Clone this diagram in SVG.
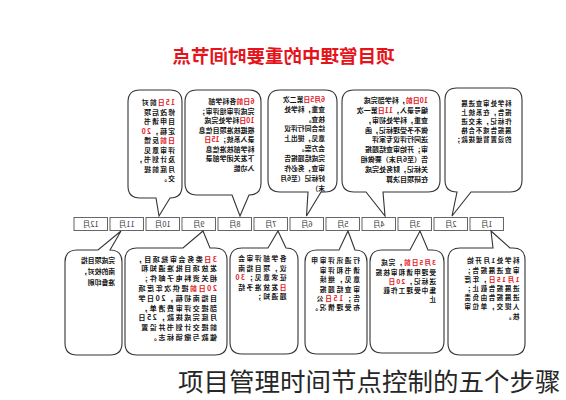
<svg xmlns="http://www.w3.org/2000/svg" width="566" height="400" viewBox="0 0 566 400">
<style>
.bg{fill:#fff}
.b{fill:#fff;stroke:#333;stroke-width:1.1}
.t{font-family:"Noto Sans CJK SC","Noto Sans",sans-serif;font-weight:bold;fill:#151515}
.r{fill:#e3151b}
.mb{fill:#fff;stroke:#666;stroke-width:1}
.mt{font-family:"Noto Sans CJK SC","Noto Sans",sans-serif;font-size:7.5px;fill:#333;text-anchor:middle}
.ttl{font-family:"Noto Sans CJK SC","Noto Sans",sans-serif;font-weight:bold;font-size:18.5px;fill:#e5141b;text-anchor:middle}
.cap{font-family:"Noto Sans CJK SC","Noto Sans",sans-serif;font-size:25.5px;fill:#262626}
</style>
<rect class="bg" x="0" y="0" width="566" height="400"/>
<g id="diagram" transform="matrix(-1 0 0 1 566 0)">
  <text id="title" class="ttl" x="282.5" y="63">项目管理中的重要时间节点</text>

  <g id="months">
    <g id="m1"><rect class="mb" x="62.5" y="217.5" width="33.5" height="13"/><text class="mt" x="79.25" y="226.8">1月</text></g>
    <g id="m2"><rect class="mb" x="98.5" y="217.5" width="33.5" height="13"/><text class="mt" x="115.25" y="226.8">2月</text></g>
    <g id="m3"><rect class="mb" x="134.5" y="217.5" width="33.5" height="13"/><text class="mt" x="151.25" y="226.8">3月</text></g>
    <g id="m4"><rect class="mb" x="170.5" y="217.5" width="33.5" height="13"/><text class="mt" x="187.25" y="226.8">4月</text></g>
    <g id="m5"><rect class="mb" x="206.5" y="217.5" width="33.5" height="13"/><text class="mt" x="223.25" y="226.8">5月</text></g>
    <g id="m6"><rect class="mb" x="242.5" y="217.5" width="33.5" height="13"/><text class="mt" x="259.25" y="226.8">6月</text></g>
    <g id="m7"><rect class="mb" x="278.5" y="217.5" width="33.5" height="13"/><text class="mt" x="295.25" y="226.8">7月</text></g>
    <g id="m8"><rect class="mb" x="314.5" y="217.5" width="33.5" height="13"/><text class="mt" x="331.25" y="226.8">8月</text></g>
    <g id="m9"><rect class="mb" x="350.5" y="217.5" width="33.5" height="13"/><text class="mt" x="367.25" y="226.8">9月</text></g>
    <g id="m10"><rect class="mb" x="386.5" y="217.5" width="33.5" height="13"/><text class="mt" x="403.25" y="226.8">10月</text></g>
    <g id="m11"><rect class="mb" x="422.5" y="217.5" width="33.5" height="13"/><text class="mt" x="439.25" y="226.8">11月</text></g>
    <g id="m12"><rect class="mb" x="458.5" y="217.5" width="33.5" height="13"/><text class="mt" x="475.25" y="226.8">12月</text></g>
  </g>

  <g id="connectors"></g>

  <g id="note-oct">
    <path class="b" d="M396,90 H426 Q438,90 438,102 V186 Q438,198 426,198 H410 L407,216 L396,198 Q384,198 384,186 V102 Q384,90 396,90 Z"/>
    <text class="t" font-size="6.9" letter-spacing="1.1">
      <tspan x="391" y="105.1"><tspan class="r">15日</tspan>前对</tspan>
      <tspan x="391" dy="9.5">修改后项</tspan>
      <tspan x="391" dy="9.5">目申请书</tspan>
      <tspan x="391" dy="9.5">定稿，<tspan class="r">20</tspan></tspan>
      <tspan x="391" dy="9.5"><tspan class="r">日前</tspan>反馈</tspan>
      <tspan x="391" dy="9.5">评审意见</tspan>
      <tspan x="391" dy="9.5">及计划书，</tspan>
      <tspan x="391" dy="9.5">月底前提</tspan>
      <tspan x="391" dy="9.5">交。</tspan>
    </text>
  </g>

  <g id="note-aug">
    <path class="b" d="M317,90 H369 Q381,90 381,102 V183 Q381,195 369,195 H334 L326,216 L317,195 Q305,195 305,183 V102 Q305,90 317,90 Z"/>
    <text class="t" font-size="6.9" letter-spacing="0.1">
      <tspan x="311.5" y="104.1"><tspan class="r">6日前</tspan>各科学部</tspan>
      <tspan x="311.5" dy="9.5">完成评审组评审；</tspan>
      <tspan x="311.5" dy="9.5"><tspan class="r">10日</tspan>科学处完成</tspan>
      <tspan x="311.5" dy="9.5">根据核准项目信息</tspan>
      <tspan x="311.5" dy="9.5">录入系统；<tspan class="r">15日</tspan></tspan>
      <tspan x="311.5" dy="9.5">科学部核准信息</tspan>
      <tspan x="311.5" dy="9.5">下发关闭学部录</tspan>
      <tspan x="311.5" dy="9.5">入功能</tspan>
    </text>
  </g>

  <g id="note-jun">
    <path class="b" d="M241,90 H286 Q298,90 298,102 V180 Q298,192 286,192 H258 L259.5,216 L245,192 H241 Q229,192 229,180 V102 Q229,90 241,90 Z"/>
    <text class="t" font-size="6.8">
      <tspan x="241" y="101.7"><tspan class="r">6月5日</tspan>第二次</tspan>
      <tspan x="241" dy="9.9">查重，科学处</tspan>
      <tspan x="241" dy="9.9">核查。</tspan>
      <tspan x="241" dy="9.9">综合同行评议</tspan>
      <tspan x="241" dy="9.9">意见，提出上</tspan>
      <tspan x="241" dy="9.9">会方案。</tspan>
      <tspan x="241" dy="9.9">完成结题报告</tspan>
      <tspan x="241" dy="9.9">审查，务必作</tspan>
      <tspan x="241" dy="9.9">好标记（至6月</tspan>
      <tspan x="241" dy="9.9">末）</tspan>
    </text>
  </g>

  <g id="note-apr">
    <path class="b" d="M138,90 H212 Q224,90 224,102 V180 Q224,192 212,192 H200 L181,216 L183,192 H138 Q126,192 126,180 V102 Q126,90 138,90 Z"/>
    <text class="t" font-size="7">
      <tspan x="138" y="103.2"><tspan class="r">10日前</tspan>，科学部完成</tspan>
      <tspan x="138" dy="9.8">编号录入，<tspan class="r">11日</tspan>第一次</tspan>
      <tspan x="138" dy="9.8">查重，科学处初审，</tspan>
      <tspan x="138" dy="9.8">做不予受理标记，函</tspan>
      <tspan x="138" dy="9.8">送同行评议专家评</tspan>
      <tspan x="138" dy="9.8">审；开始审查结题报</tspan>
      <tspan x="138" dy="9.8">告（至6月末）要做相</tspan>
      <tspan x="138" dy="9.8">关标记，财务处完成</tspan>
      <tspan x="138" dy="9.8">在研项目决算</tspan>
    </text>
  </g>

  <g id="note-feb">
    <path class="b" d="M56,88 H109 Q121,88 121,100 V180 Q121,192 109,192 L114,216 L95,192 H56 Q44,192 44,180 V100 Q44,88 56,88 Z"/>
    <text class="t" font-size="6.5" letter-spacing="0.8">
      <tspan x="54.5" y="106.3">科学处审查进展</tspan>
      <tspan x="54.5" dy="9">报告，在系统上</tspan>
      <tspan x="54.5" dy="9">作标记，未交进</tspan>
      <tspan x="54.5" dy="9">展报告或不合格</tspan>
      <tspan x="54.5" dy="9">的设置暂缓拨款；</tspan>
    </text>
  </g>

  <g id="note-nov">
    <path class="b" d="M456,250 L445,231 L468,250 H489 Q501,250 501,262 V343 Q501,355 489,355 H456 Q444,355 444,343 V262 Q444,250 456,250 Z"/>
    <text class="t" font-size="6.8">
      <tspan x="451" y="263.4">完成项目指</tspan>
      <tspan x="451" dy="10.6">南的校对，</tspan>
      <tspan x="451" dy="10.6">准备印刷</tspan>
    </text>
  </g>

  <g id="note-sep">
    <path class="b" d="M351,248 H356 L363,231 L383,248 H429 Q441,248 441,260 V343 Q441,355 429,355 H351 Q339,355 339,343 V260 Q339,248 351,248 Z"/>
    <text class="t" font-size="7.1" letter-spacing="1.5">
      <tspan x="349" y="261.5"><tspan class="r">3日</tspan>委务会审批项目，</tspan>
      <tspan x="349" dy="9.8">发放项目批准通知和</tspan>
      <tspan x="349" dy="9.8">相关资料电子邮件；</tspan>
      <tspan x="349" dy="9.8"><tspan class="r">20日前</tspan>提供次年度项</tspan>
      <tspan x="349" dy="9.8">目指南初稿，20日学</tspan>
      <tspan x="349" dy="9.8">部提交评审费清单，</tspan>
      <tspan x="349" dy="9.8">月底完成拨款，25日</tspan>
      <tspan x="349" dy="9.8">前提交计划书并设置</tspan>
      <tspan x="349" dy="9.8">催款与撤销标志。</tspan>
    </text>
  </g>

  <g id="note-jul">
    <path class="b" d="M280,248 L288,231 L298,248 H324 Q336,248 336,260 V342 Q336,354 324,354 H280 Q268,354 268,342 V260 Q268,248 280,248 Z"/>
    <text class="t" font-size="6.8" letter-spacing="1.5">
      <tspan x="279.5" y="261.4">各学部评审会</tspan>
      <tspan x="279.5" dy="9.4">议，项目指南</tspan>
      <tspan x="279.5" dy="9.4">征求意见；<tspan class="r">30</tspan></tspan>
      <tspan x="279.5" dy="9.4"><tspan class="r">日</tspan>发放准予结</tspan>
      <tspan x="279.5" dy="9.4">题通知；</tspan>
    </text>
  </g>

  <g id="note-may">
    <path class="b" d="M211,250 L218,231 L227,250 H249 Q261,250 261,262 V342 Q261,354 249,354 H211 Q199,354 199,342 V262 Q199,250 211,250 Z"/>
    <text class="t" font-size="6.8" letter-spacing="1.6">
      <tspan x="206" y="263.4">行通讯评审申</tspan>
      <tspan x="206" dy="9.4">请书和评审</tspan>
      <tspan x="206" dy="9.4">意见，继续</tspan>
      <tspan x="206" dy="9.4">审查结题报</tspan>
      <tspan x="206" dy="9.4">告；<tspan class="r">15日</tspan>公</tspan>
      <tspan x="206" dy="9.4">布受理情况。</tspan>
    </text>
  </g>

  <g id="note-mar">
    <path class="b" d="M134,250 H138 L146,231 L156,250 H184 Q196,250 196,262 V341 Q196,353 184,353 H134 Q122,353 122,341 V262 Q122,250 134,250 Z"/>
    <text class="t" font-size="6.7" letter-spacing="1">
      <tspan x="130" y="265.3"><tspan class="r">3月5日前</tspan>，完成</tspan>
      <tspan x="130" dy="9.2">受理申请和审核报</tspan>
      <tspan x="130" dy="9.2">送标记，<tspan class="r">20日</tspan></tspan>
      <tspan x="130" dy="9.2">集中受理工作截</tspan>
      <tspan x="130" dy="9.2">止</tspan>
    </text>
  </g>

  <g id="note-jan">
    <path class="b" d="M53,248 H56 L75,231 L73,248 H106 Q118,248 118,260 V343 Q118,355 106,355 H53 Q41,355 41,343 V260 Q41,248 53,248 Z"/>
    <text class="t" font-size="6.7" letter-spacing="1.4">
      <tspan x="46.5" y="263.4">科学处1月开始</tspan>
      <tspan x="46.5" dy="9.2">审查进展报告；</tspan>
      <tspan x="46.5" dy="9.2"><tspan class="r">1月15日</tspan>，年度</tspan>
      <tspan x="46.5" dy="9.2">进展报告截止；</tspan>
      <tspan x="46.5" dy="9.2">进展报告由负责</tspan>
      <tspan x="46.5" dy="9.2">人提交，单位审</tspan>
      <tspan x="46.5" dy="9.2">核。</tspan>
    </text>
  </g>
</g>
<text id="caption" class="cap" x="178" y="391">项目管理时间节点控制的五个步骤</text>
</svg>
